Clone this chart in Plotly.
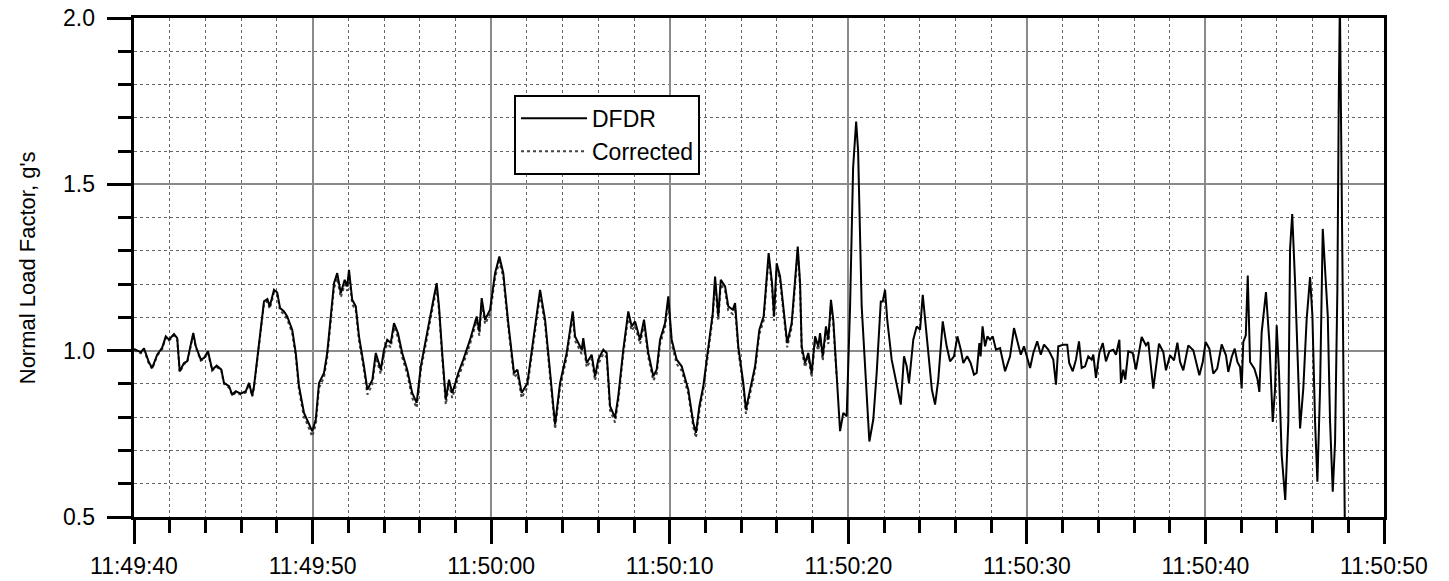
import pandas as pd
import plotly.graph_objects as go

# ---- data (seconds after 11:49:40, normal load factor in g's) ----
dfdr_seconds = [
    0.00, 0.38, 0.56, 0.84, 1.02, 1.30, 1.58, 1.78, 1.96, 2.24, 2.42, 2.56, 2.80, 2.98, 3.32, 3.46, 3.74, 3.92, 4.14, 4.38,
    4.63, 4.89, 5.04, 5.32, 5.50, 5.70, 5.98, 6.26, 6.44, 6.62, 6.72, 6.90, 7.10, 7.28, 7.47, 7.60, 7.84, 8.02, 8.18, 8.40,
    8.58, 8.86, 9.06, 9.24, 9.52, 9.70, 9.98, 10.18, 10.36, 10.64, 10.82, 11.02, 11.20, 11.38, 11.58, 11.80, 11.94, 12.04,
    12.22, 12.42, 12.60, 12.88, 13.07, 13.35, 13.54, 13.82, 14.00, 14.18, 14.38, 14.56, 14.78, 15.02, 15.30, 15.58, 15.83,
    16.06, 16.34, 16.62, 16.80, 16.95, 17.08, 17.26, 17.46, 17.64, 17.82, 17.98, 18.16, 18.44, 18.82, 19.19, 19.34, 19.47,
    19.66, 19.94, 20.22, 20.46, 20.68, 20.96, 21.28, 21.47, 21.71, 22.03, 22.36, 22.74, 23.02, 23.30, 23.58, 23.86, 24.23,
    24.57, 24.70, 25.07, 25.16, 25.35, 25.63, 25.82, 26.00, 26.28, 26.47, 26.66, 26.94, 27.12, 27.40, 27.68, 27.87, 28.06,
    28.34, 28.56, 28.80, 29.08, 29.27, 29.46, 29.74, 29.92, 30.11, 30.39, 30.67, 31.04, 31.32, 31.47, 31.66, 31.88, 32.16,
    32.41, 32.54, 32.72, 32.86, 33.10, 33.28, 33.53, 33.66, 33.84, 34.12, 34.27, 34.50, 34.78, 35.02, 35.26, 35.54, 35.73,
    35.84, 35.99, 36.18, 36.36, 36.58, 36.83, 37.02, 37.17, 37.30, 37.39, 37.58, 37.76, 37.95, 38.14, 38.32, 38.42, 38.57,
    38.75, 38.88, 39.03, 39.16, 39.35, 39.54, 39.72, 39.91, 40.10, 40.27, 40.44, 40.55, 40.75, 40.94, 41.18, 41.40, 41.59,
    41.82, 41.93, 42.06, 42.18, 42.43, 42.71, 42.94, 43.12, 43.27, 43.40, 43.64, 43.83, 44.02, 44.17, 44.30, 44.49, 44.68,
    44.86, 45.04, 45.29, 45.51, 45.70, 45.92, 46.11, 46.30, 46.44, 46.66, 46.85, 47.04, 47.19, 47.34, 47.41, 47.52, 47.66,
    47.79, 47.94, 48.09, 48.27, 48.50, 48.78, 49.06, 49.28, 49.43, 49.66, 49.84, 49.99, 50.18, 50.36, 50.58, 50.78, 50.96,
    51.20, 51.48, 51.63, 51.76, 52.04, 52.26, 52.37, 52.57, 52.75, 52.92, 53.07, 53.26, 53.44, 53.63, 53.72, 53.87, 54.06,
    54.25, 54.43, 54.62, 54.84, 54.99, 55.18, 55.27, 55.40, 55.51, 55.68, 55.93, 56.11, 56.43, 56.67, 56.80, 57.08, 57.40,
    57.64, 57.79, 58.02, 58.24, 58.43, 58.58, 58.76, 59.04, 59.32, 59.66, 59.85, 60.01, 60.22, 60.44, 60.66, 60.91, 61.15,
    61.28, 61.47, 61.64, 61.79, 61.94, 62.03, 62.12, 62.26, 62.37, 62.50, 62.74, 62.91, 63.02, 63.15, 63.39, 63.58, 63.77,
    63.90, 63.99, 64.12, 64.27, 64.47, 64.64, 64.74, 64.86, 65.02, 65.14, 65.30, 65.48, 65.67, 65.86, 65.99, 66.14, 66.27,
    66.42, 66.57, 66.72, 66.85, 66.98, 67.13, 67.26, 67.39, 67.47, 67.53, 67.68, 67.77, 67.81,
]
dfdr_g = [
    1.005, 0.995, 1.007, 0.964, 0.948, 0.988, 1.009, 1.043, 1.033, 1.050, 1.038, 0.938, 0.963, 0.968, 1.053, 1.013, 0.973,
    0.978, 0.998, 0.943, 0.955, 0.943, 0.903, 0.893, 0.868, 0.878, 0.871, 0.878, 0.903, 0.865, 0.893, 0.973, 1.053, 1.148,
    1.155, 1.133, 1.183, 1.175, 1.128, 1.118, 1.103, 1.063, 0.993, 0.893, 0.813, 0.793, 0.758, 0.793, 0.903, 0.933, 0.993,
    1.103, 1.203, 1.233, 1.173, 1.213, 1.193, 1.243, 1.153, 1.133, 1.043, 0.953, 0.883, 0.913, 0.993, 0.943, 1.003, 1.033,
    1.023, 1.083, 1.053, 0.993, 0.943, 0.873, 0.843, 0.953, 1.033, 1.123, 1.163, 1.203, 1.133, 0.993, 0.853, 0.913, 0.873,
    0.900, 0.933, 0.973, 1.033, 1.103, 1.058, 1.158, 1.093, 1.123, 1.233, 1.283, 1.233, 1.083, 0.933, 0.943, 0.873, 0.903,
    1.033, 1.183, 1.093, 0.933, 0.778, 0.903, 0.993, 1.118, 1.043, 1.003, 1.038, 0.963, 0.988, 0.923, 0.973, 1.003, 0.993,
    0.833, 0.798, 0.863, 1.003, 1.118, 1.073, 1.088, 1.033, 1.093, 0.993, 0.923, 0.943, 1.033, 1.083, 1.163, 1.033, 0.973,
    0.953, 0.883, 0.783, 0.753, 0.833, 0.893, 1.003, 1.113, 1.223, 1.103, 1.213, 1.193, 1.133, 1.123, 1.143, 1.013, 0.903,
    0.823, 0.883, 0.953, 1.063, 1.103, 1.293, 1.203, 1.103, 1.263, 1.223, 1.133, 1.023, 1.083, 1.213, 1.313, 1.203, 1.013,
    0.963, 0.993, 0.933, 1.043, 1.013, 1.053, 0.983, 1.073, 1.033, 1.153, 1.093, 0.933, 0.758, 0.813, 0.803, 1.133, 1.550,
    1.689, 1.600, 1.133, 0.953, 0.727, 0.793, 0.933, 1.148, 1.148, 1.183, 1.093, 0.973, 0.893, 0.838, 0.983, 0.953, 0.903,
    1.033, 1.073, 1.063, 1.168, 1.093, 0.973, 0.883, 0.838, 0.913, 1.088, 1.013, 0.968, 0.983, 1.043, 1.003, 0.963, 0.983,
    0.963, 0.928, 0.933, 1.023, 0.983, 1.073, 1.013, 1.043, 1.033, 1.043, 1.003, 1.008, 0.938, 0.983, 1.068, 1.033, 0.988,
    1.013, 0.983, 0.948, 0.993, 1.028, 0.988, 1.018, 1.003, 0.973, 0.898, 1.013, 1.018, 1.018, 0.963, 0.938, 0.973, 1.028,
    0.948, 0.953, 0.983, 0.973, 0.988, 0.918, 0.993, 1.023, 0.968, 0.998, 1.003, 0.988, 1.033, 0.903, 0.943, 0.913, 0.998,
    0.993, 0.943, 1.041, 1.016, 1.026, 0.886, 1.021, 0.996, 0.941, 0.986, 0.971, 1.024, 0.966, 0.941, 1.016, 1.001, 0.926,
    0.966, 1.026, 1.006, 0.931, 0.946, 1.019, 0.986, 0.936, 0.981, 1.006, 0.966, 0.951, 0.886, 1.026, 1.046, 1.226, 0.966,
    0.946, 0.916, 0.876, 1.056, 1.176, 1.026, 0.786, 0.886, 1.076, 0.936, 0.686, 0.551, 0.786, 1.306, 1.411, 1.206, 0.986,
    0.766, 0.886, 1.096, 1.221, 1.106, 0.786, 0.606, 0.886, 1.366, 1.226, 1.106, 0.786, 0.576, 0.726, 1.186, 1.776, 2.050,
    1.216, 0.586, 0.450,
]

corrected_g = [
    1.001, 0.992, 1.003, 0.960, 0.945, 0.985, 1.005, 1.039, 1.030, 1.046, 1.034, 0.935, 0.960, 0.964, 1.049, 1.010, 0.970,
    0.974, 0.994, 0.940, 0.951, 0.940, 0.900, 0.889, 0.865, 0.874, 0.868, 0.874, 0.900, 0.862, 0.889, 0.968, 1.047, 1.141,
    1.148, 1.126, 1.175, 1.167, 1.120, 1.110, 1.094, 1.053, 0.982, 0.881, 0.800, 0.780, 0.742, 0.778, 0.888, 0.920, 0.980,
    1.090, 1.188, 1.218, 1.160, 1.199, 1.180, 1.228, 1.140, 1.120, 1.030, 0.940, 0.868, 0.899, 0.980, 0.930, 0.990, 1.020,
    1.010, 1.070, 1.040, 0.980, 0.930, 0.858, 0.828, 0.940, 1.020, 1.110, 1.150, 1.188, 1.120, 0.980, 0.838, 0.900, 0.858,
    0.886, 0.920, 0.960, 1.020, 1.090, 1.045, 1.144, 1.080, 1.110, 1.220, 1.268, 1.220, 1.070, 0.920, 0.930, 0.858, 0.890,
    1.020, 1.168, 1.080, 0.920, 0.764, 0.890, 0.980, 1.104, 1.030, 0.990, 1.025, 0.950, 0.975, 0.910, 0.960, 0.990, 0.980,
    0.820, 0.784, 0.850, 0.990, 1.104, 1.060, 1.075, 1.020, 1.080, 0.980, 0.910, 0.930, 1.020, 1.070, 1.148, 1.020, 0.960,
    0.940, 0.870, 0.770, 0.738, 0.820, 0.880, 0.990, 1.100, 1.208, 1.090, 1.200, 1.180, 1.120, 1.110, 1.130, 1.000, 0.890,
    0.810, 0.870, 0.940, 1.050, 1.090, 1.278, 1.190, 1.090, 1.248, 1.210, 1.120, 1.010, 1.070, 1.200, 1.298, 1.190, 1.000,
    0.950, 0.980, 0.920, 1.030, 1.000, 1.040, 0.970, 1.060, 1.020, 1.140, 1.080, 0.920,
]
corrected_seconds = dfdr_seconds[:len(corrected_g)]

start_time = "2000-01-01 11:49:40"
end_time = "2000-01-01 11:50:50"
x_tick_seconds = [0, 10, 20, 30, 40, 50, 60, 70]
x_tick_labels = ["11:49:40", "11:49:50", "11:50:00", "11:50:10", "11:50:20", "11:50:30", "11:50:40", "11:50:50"]
y_tick_values = [0.5, 1.0, 1.5, 2.0]
y_tick_labels = ["0.5", "1.0", "1.5", "2.0"]

base = pd.Timestamp(start_time)
def to_time(secs):
    return [base + pd.Timedelta(seconds=s) for s in secs]

FONT = "Liberation Sans, Arial, Helvetica, sans-serif"
TICK_SIZE = 23

fig = go.Figure()
fig.add_trace(go.Scatter(
    x=to_time(corrected_seconds), y=corrected_g, mode="lines", name="Corrected",
    line=dict(color="#444444", width=2, dash="dot"),
))
fig.add_trace(go.Scatter(
    x=to_time(dfdr_seconds), y=dfdr_g, mode="lines", name="DFDR",
    line=dict(color="black", width=2),
))

# y tick labels as annotations positioned by the y scale (placed a little further from the axis)
y_label_annotations = [
    dict(text=lbl, xref="paper", yref="y", x=-0.0296, y=val, xanchor="right", yanchor="middle",
         showarrow=False, font=dict(family=FONT, size=TICK_SIZE, color="black"))
    for val, lbl in zip(y_tick_values, y_tick_labels)
]

fig.update_layout(
    width=1449, height=581,
    margin=dict(l=134, r=65, t=18, b=64, autoexpand=False),
    paper_bgcolor="white", plot_bgcolor="white",
    font=dict(family=FONT, size=TICK_SIZE, color="black"),
    showlegend=True,
    legend=dict(
        x=0.304, y=0.846, xanchor="left", yanchor="top",
        bgcolor="white", bordercolor="black", borderwidth=2,
        font=dict(family=FONT, size=23, color="black"),
        traceorder="reversed", itemwidth=66,
    ),
    xaxis=dict(
        type="date", automargin=False,
        range=[base, pd.Timestamp(end_time)],
        tickmode="array",
        tickvals=to_time(x_tick_seconds),
        ticktext=x_tick_labels,
        ticks="outside", ticklen=24, tickwidth=3, tickcolor="black",
        ticklabelstandoff=2,
        showline=True, linewidth=3, linecolor="black", mirror=True,
        showgrid=True, gridcolor="#8a8a8a", gridwidth=1.5,
        zeroline=False,
        minor=dict(
            tickmode="linear", tick0=start_time, dtick=2000,
            ticks="outside", ticklen=13, tickwidth=3, tickcolor="black",
            showgrid=True, gridcolor="#666666", gridwidth=1, griddash="dot",
        ),
        tickfont=dict(family=FONT, size=TICK_SIZE, color="black"),
    ),
    yaxis=dict(
        range=[0.5, 2.0], automargin=False,
        tickmode="array", tickvals=y_tick_values, ticktext=y_tick_labels,
        showticklabels=False,
        ticks="outside", ticklen=24, tickwidth=3, tickcolor="black",
        showline=True, linewidth=3, linecolor="black", mirror=True,
        showgrid=True, gridcolor="#8a8a8a", gridwidth=1.5,
        zeroline=False,
        minor=dict(
            tickmode="linear", tick0=0.5, dtick=0.1,
            ticks="outside", ticklen=13, tickwidth=3, tickcolor="black",
            showgrid=True, gridcolor="#666666", gridwidth=1, griddash="dot",
        ),
    ),
    annotations=y_label_annotations + [dict(
        text="Normal Load Factor, g's", textangle=-90,
        xref="paper", yref="paper", x=-0.085, y=0.5,
        xanchor="center", yanchor="middle", showarrow=False,
        font=dict(family=FONT, size=22, color="black"),
    )],
)

fig.write_html("out.html")
